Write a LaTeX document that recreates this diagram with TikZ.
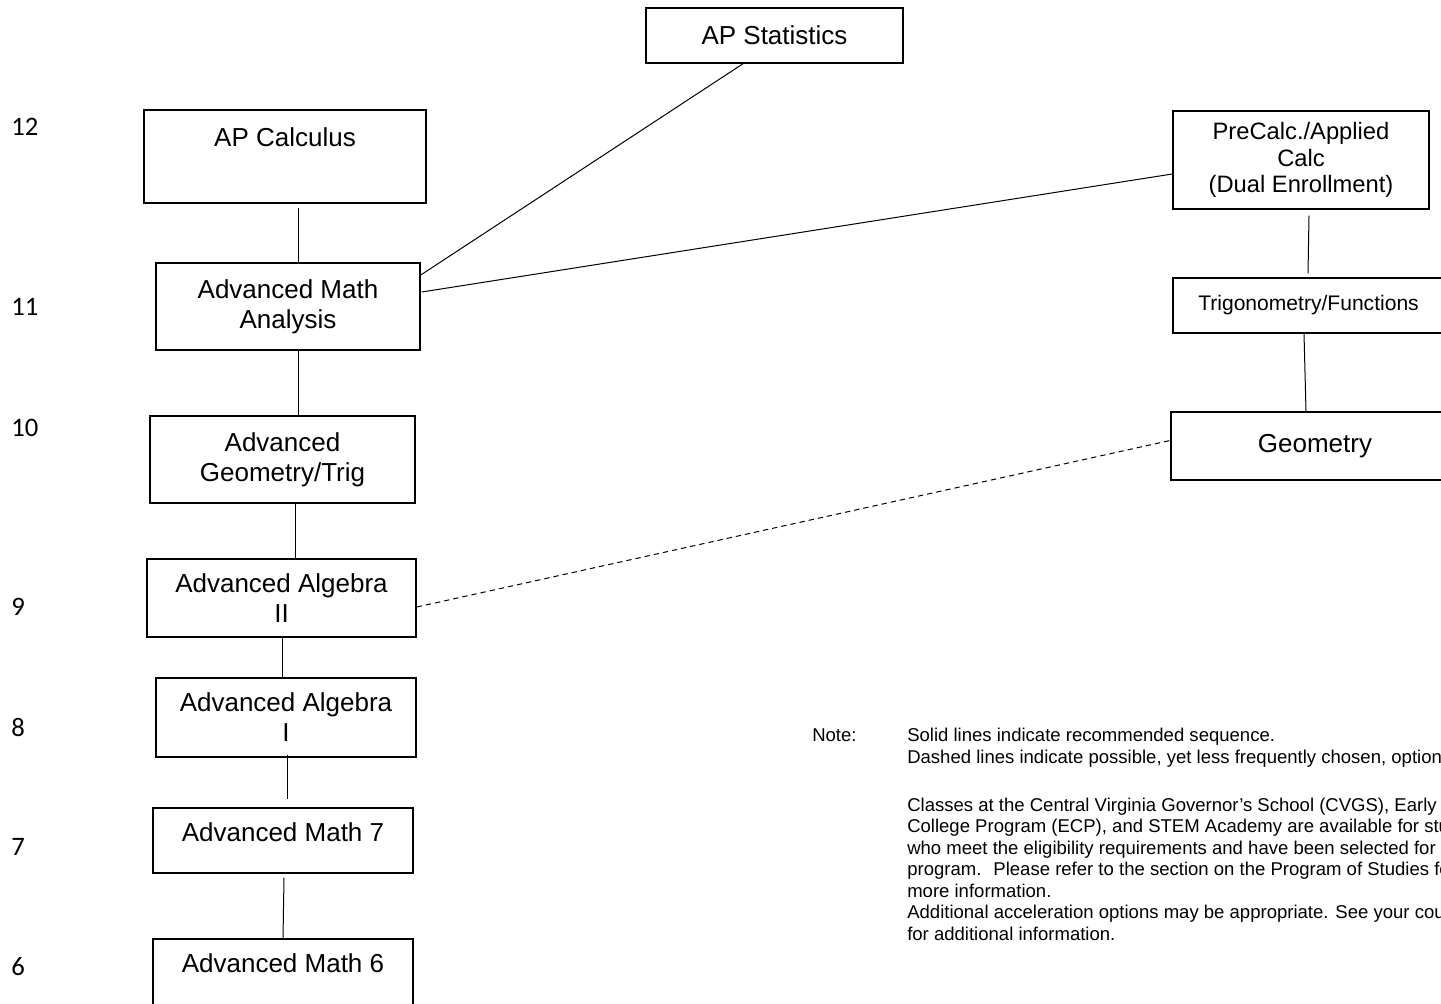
\documentclass[tikz,border=0pt]{standalone}
\usepackage{fontspec}
\setmainfont{Liberation Sans}
\newfontfamily\gradefont{Carlito}
\usetikzlibrary{calc}

\tikzset{
  course/.style={draw, line width=1.1pt, align=center, inner sep=2pt, font=\fontsize{19.5}{22.5}\selectfont},
  link/.style={line width=0.75pt},
  option/.style={link, dash pattern=on 4pt off 3pt},
  grade/.style={anchor=west, inner sep=0pt, font=\gradefont\fontsize{20}{24}\selectfont},
  notes/.style={anchor=north west, inner sep=0pt, font=\fontsize{13.9}{16.1}\selectfont},
}

\begin{document}
\begin{tikzpicture}[x=0.75pt,y=0.75pt,yscale=-1,xscale=1]
	\useasboundingbox (0,0) rectangle (1441,1003);
	\clip (0,0) rectangle (1441,1003);

	% grades
	\node (g12) [grade] at (11,127) {12};
	\node (g11) [grade] at (11,307) {11};
	\node (g10) [grade] at (11,428) {10};
	\node (g9) [grade] at (11,607) {9};
	\node (g8) [grade] at (11,727) {8};
	\node (g7) [grade] at (11,847) {7};
	\node (g6) [grade] at (11,967) {6};

	% courses
	\node (stats) [course, minimum width=192.75pt, minimum height=41.25pt] at (774.5,35.5) {AP Statistics};
	\node (calc) [course, minimum width=211.5pt, minimum height=69.75pt] at (285,156.5) {AP Calculus\\[6pt]\mbox{}};
	\node (ama) [course, minimum width=198pt, minimum height=65.25pt] at (288,306.5) {Advanced Math\\Analysis};
	\node (agt) [course, minimum width=198.75pt, minimum height=65.25pt] at (282.5,459.5) {Advanced\\Geometry/Trig};
	\node (aa2) [course, minimum width=201.75pt, minimum height=58.5pt] at (281.5,598) {Advanced Algebra\\II};
	\node (aa1) [course, minimum width=195pt, minimum height=59.25pt] at (286,717.5) {Advanced Algebra\\I};
	\node (am7) [course, minimum width=195pt, minimum height=48.75pt, text depth=12pt] at (283,840.5) {Advanced Math 7};
	\node (am6) [course, minimum width=195pt, minimum height=52.5pt, text depth=16pt] at (283,974) {Advanced Math 6};
	\node (pre) [course, minimum width=192pt, minimum height=73.5pt, font=\fontsize{17.8}{19.9}\selectfont] at (1301,160) {PreCalc./Applied\\Calc\\(Dual Enrollment)};
	\node (trig) [course, minimum width=203.25pt, minimum height=41.25pt, font=\fontsize{15.8}{18}\selectfont] at (1308.5,305.5) {Trigonometry/Functions};
	\node (geom) [course, minimum width=216pt, minimum height=51pt] at (1315,446) {Geometry};

	% recommended sequence
	\draw [link] ($(calc.south)+(13,4)$) -- ($(ama.north)+(10,2)$);
	\draw [link] ($(ama.south)+(10,0)$) -- ($(agt.north)+(15.5,0)$);
	\draw [link] ($(agt.south)+(12.5,0)$) -- ($(aa2.north)+(13.5,0)$);
	\draw [link] ($(aa2.south)+(0.5,0)$) -- ($(aa1.north)+(-4,0)$);
	\draw [link] ($(aa1.south)+(1,-3)$) -- ($(am7.north)+(4,-8)$);
	\draw [link] ($(am7.south)+(1,4)$) -- (am6.north);
	\draw [link] ($(ama.east)+(0,-31.5)$) -- ($(stats.south)+(-31.5,0)$);
	\draw [link] ($(ama.east)+(1,-14.5)$) -- ($(pre.west)+(0,14)$);
	\draw [link] ($(pre.south)+(8,6)$) -- ($(trig.north)+(-0.5,-4)$);
	\draw [link] ($(trig.south)+(-4.5,0)$) -- ($(geom.north)+(-9,0)$);

	% less frequent option
	\draw [option] ($(aa2.east)+(0,9)$) -- ($(geom.west)+(2,-6)$);

	% note
	\node (note) [notes] at (812,728) {Note:};
	\node (notetext) [notes, align=left] at (907,728) {Solid lines indicate recommended sequence.\\
Dashed lines indicate possible, yet less frequently chosen, options.\\[20pt]
Classes at the Central Virginia Governor’s School (CVGS), Early\\
College Program (ECP), and STEM Academy are available for students\\
who meet the eligibility requirements and have been selected for the\\
program.~ Please refer to the section on the Program of Studies for\\
more information.\\
Additional acceleration options may be appropriate. See your counselor\\
for additional information.};
\end{tikzpicture}
\end{document}
